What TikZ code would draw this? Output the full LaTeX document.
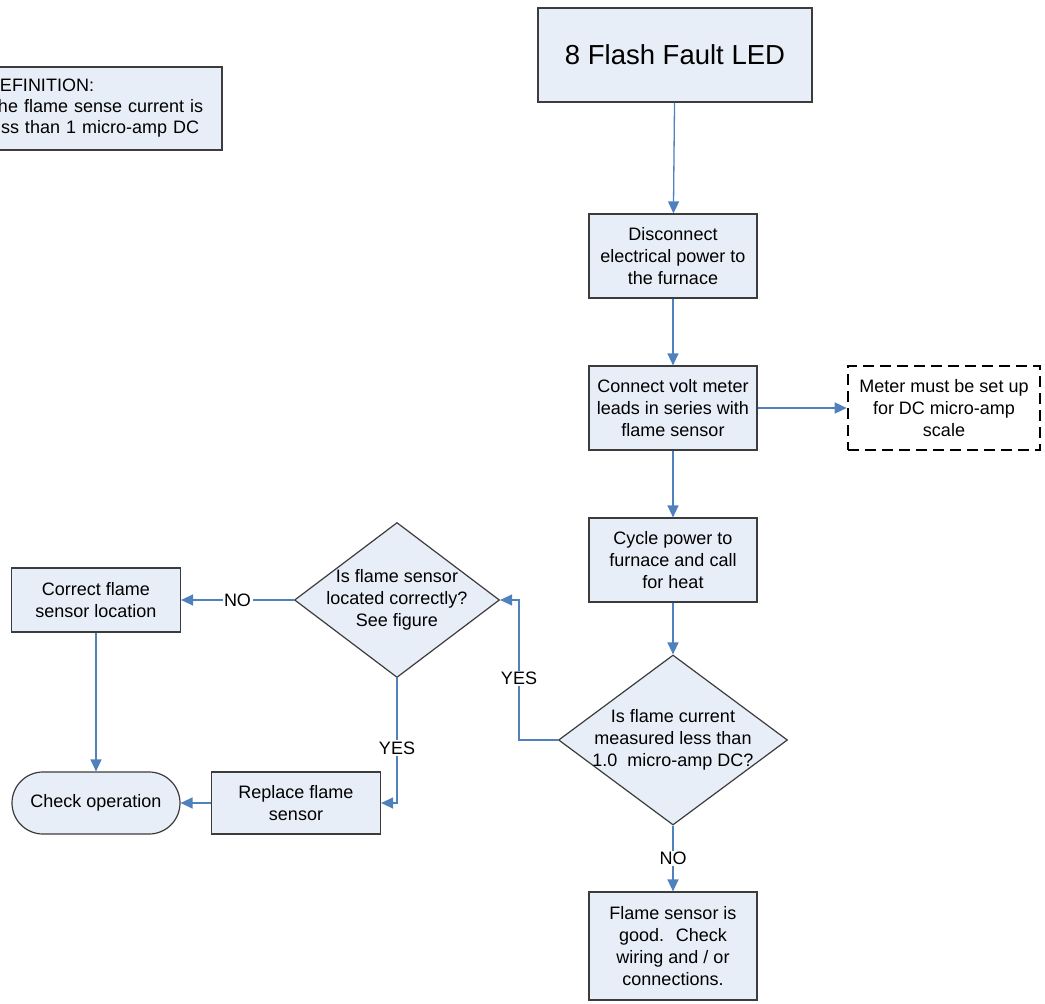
\documentclass[tikz,border=0pt]{standalone}
\usepackage{fontspec}
\setmainfont{Liberation Sans}
\usetikzlibrary{shapes.geometric,arrows.meta}
\definecolor{boxfill}{RGB}{232,238,247}
\definecolor{conn}{RGB}{79,129,189}
\definecolor{edge}{RGB}{60,60,60}
\begin{document}
\begin{tikzpicture}[x=1pt,y=-1pt,
  txt/.style={font=\fontsize{18}{22}\selectfont},
  box/.style={draw=edge,fill=boxfill,line width=1.2pt,inner sep=0pt,align=center,txt},
  dia/.style={diamond,draw=edge,fill=boxfill,line width=1.2pt,inner sep=0pt},
  arr/.style={draw=conn,line width=1.3pt,-{Triangle[length=12pt,width=11pt]}},
  lbl/.style={fill=white,inner sep=1.5pt,txt}]
\useasboundingbox (0,0) rectangle (1045,1004);
\clip (0,0) rectangle (1045,1004);
\fill[white] (0,0) rectangle (1045,1004);

\node[box,text width=234pt,inner xsep=1pt,align=left,minimum height=83pt,
  font=\fontsize{18}{21}\selectfont] (def) at (104,108.5)
  {DEFINITION:\\The flame sense current is\\less than 1 micro-amp DC};

\node[box,minimum width=274pt,minimum height=94pt,font=\fontsize{27.5}{32}\selectfont]
  (top) at (675,55) {8 Flash Fault LED};
\node[box,minimum width=168pt,minimum height=84pt] (disc) at (673,256)
  {Disconnect\\electrical power to\\the furnace};
\node[box,minimum width=168pt,minimum height=84pt] (conn) at (673,408)
  {Connect volt meter\\leads in series with\\flame sensor};
\node[draw=black,fill=white,line width=2.6pt,dash pattern=on 11pt off 6pt,inner sep=0pt,
  align=center,txt,minimum width=192pt,minimum height=84pt] (meter) at (944,408)
  {Meter must be set up\\for DC micro-amp\\scale};
\node[box,minimum width=168pt,minimum height=84pt] (cycle) at (673,560)
  {Cycle power to\\furnace and call\\for heat};
\node[dia,minimum width=229pt,minimum height=170pt] (dia1) at (673,740) {};
\node[txt,align=center] at (dia1.center) {Is flame current\\measured less than\\1.0~ micro-amp DC?};
\node[box,minimum width=168pt,minimum height=108pt] (good) at (673,946)
  {Flame sensor is\\good.~ Check\\wiring and / or\\connections.};
\node[dia,minimum width=205pt,minimum height=155pt] (dia2) at (397,600) {};
\node[txt,align=center] at (dia2.center) {Is flame sensor\\located correctly?\\See figure};
\node[box,minimum width=169pt,minimum height=64pt] (correct) at (96,600)
  {Correct flame\\sensor location};
\node[box,minimum width=168pt,minimum height=62pt,rounded corners=31pt] (check) at (96,803)
  {Check operation};
\node[box,minimum width=169pt,minimum height=62pt] (replace) at (296,803)
  {Replace flame\\sensor};
\coordinate (yesbend) at (519,740);

\draw[arr] (top) -- (disc);
\draw[arr] (disc) -- (conn);
\draw[arr] (conn) -- (meter);
\draw[arr] (conn) -- (cycle);
\draw[arr] (cycle) -- (dia1);
\draw[arr] (dia1) -- node[lbl]{NO} (good);
\draw[arr] (dia1.west) -- (yesbend) |- node[lbl,pos=0.22]{YES} (dia2.east);
\draw[arr] (dia2.west) -- node[lbl]{NO} (correct.east);
\draw[arr] (dia2.south) |- node[lbl,pos=0.28]{YES} (replace.east);
\draw[arr] (correct) -- (check);
\draw[arr] (replace) -- (check);
\end{tikzpicture}
\end{document}
